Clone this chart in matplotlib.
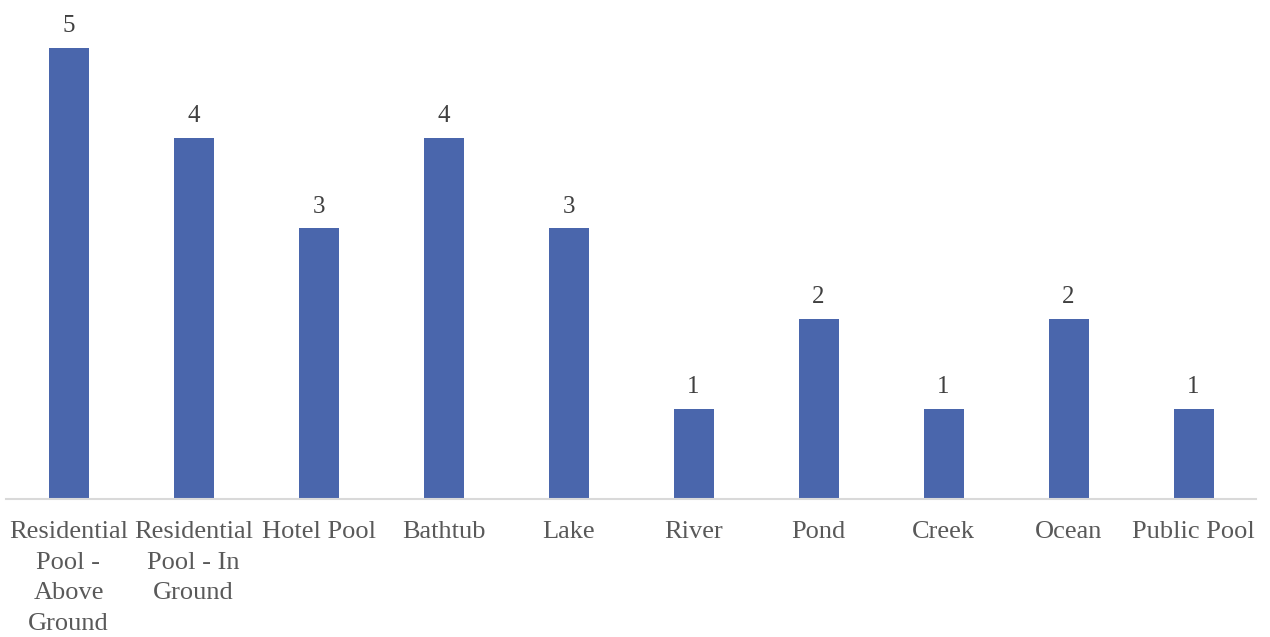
import matplotlib.pyplot as plt

categories = ["Residential\nPool -\nAbove\nGround", "Residential\nPool - In\nGround",
              "Hotel Pool", "Bathtub", "Lake", "River", "Pond", "Creek", "Ocean",
              "Public Pool"]
values = [5, 4, 3, 4, 3, 1, 2, 1, 2, 1]

plt.rcParams['font.family'] = ['Liberation Serif', 'DejaVu Serif']

fig = plt.figure(figsize=(12.7, 6.37), dpi=100, facecolor='w')
ax = fig.add_axes([6/1270, 1 - 499/637, 1250/1270, 499/637])

x = range(len(values))
bars = ax.bar(x, values, width=0.32, color='#4A66AC')
for xi, v in zip(x, values):
    ax.text(xi, v + 0.12, str(v), ha='center', va='bottom', fontsize=18, color='#404040')

ax.set_xlim(-0.5, len(values) - 0.5)
ax.set_ylim(0, 499 / 90.2)
ax.set_xticks(list(x))
ax.set_xticklabels(categories, fontsize=19, color='#595959')
for lab in ax.get_xticklabels():
    lab.set_linespacing(1.5)
ax.tick_params(axis='x', length=0, pad=16)
ax.set_yticks([])
for s in ['top', 'right', 'left']:
    ax.spines[s].set_visible(False)
ax.spines['bottom'].set_color('#D9D9D9')
ax.spines['bottom'].set_linewidth(1.5)

fig.savefig('out.png', dpi=100, facecolor=fig.get_facecolor())
